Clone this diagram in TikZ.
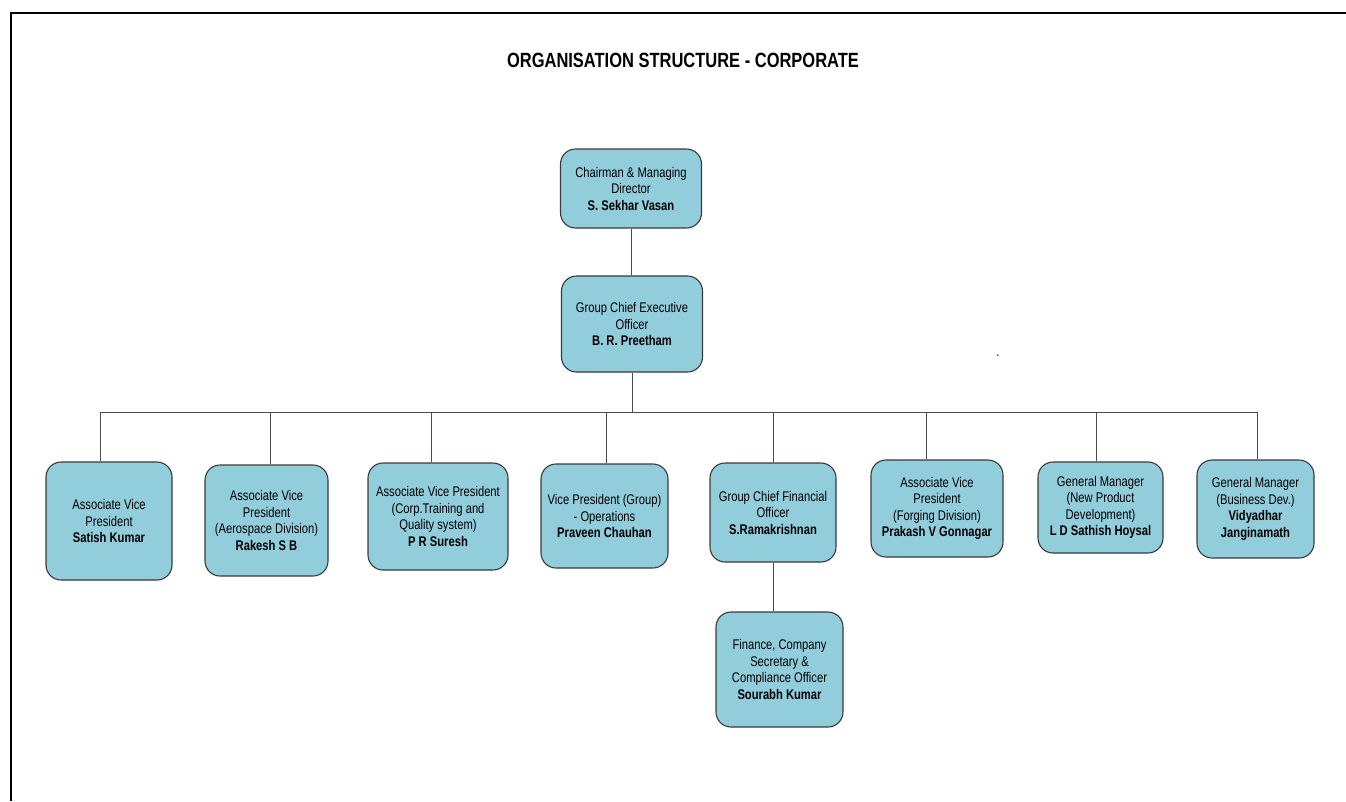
\documentclass[tikz,border=0pt]{standalone}
\usepackage{fontspec}
\setmainfont{Liberation Sans}[FakeStretch=0.8]
\definecolor{boxblue}{HTML}{92CDDC}
\definecolor{edgegray}{HTML}{3A3A3A}
\tikzset{post/.style={draw=edgegray,fill=boxblue,line width=1.1pt,rounded corners=15pt,align=center,inner sep=0pt},
  link/.style={draw=black!70,line width=1pt}}

\begin{document}
\begin{tikzpicture}[x=1pt,y=-1pt,font=\fontsize{14}{16.5}\selectfont]
\useasboundingbox (0,0) rectangle (1346,801);
\draw[line width=2.6pt] (11,801)--(11,13)--(1346,13);
\node[font=\fontsize{20.6}{24}\selectfont\bfseries] (title) at (683,60) {ORGANISATION STRUCTURE - CORPORATE};
% top of the tree
\node[post,minimum width=141pt,minimum height=79pt] (cmd) at (631,188.5) {Chairman \& Managing\\Director\\\textbf{S. Sekhar Vasan}};
\node[post,minimum width=141pt,minimum height=96pt] (gceo) at (632,324) {Group Chief Executive\\Officer\\\textbf{B. R. Preetham}};
\node (dot) at (998,356) {.};
% second level
\node[post,minimum width=126pt,minimum height=118pt] (avp1) at (109,521) {Associate Vice\\President\\\textbf{Satish Kumar}};
\node[post,minimum width=123pt,minimum height=111pt] (avp2) at (266.5,520.5) {Associate Vice\\President\\(Aerospace Division)\\\textbf{Rakesh S B}};
\node[post,minimum width=140pt,minimum height=107pt] (avp3) at (438,516.5) {Associate Vice President\\(Corp.Training and\\Quality system)\\\textbf{P R Suresh}};
\node[post,minimum width=127pt,minimum height=104pt] (vpops) at (604.5,516) {Vice President (Group)\\- Operations\\\textbf{Praveen Chauhan}};
\node[post,minimum width=126pt,minimum height=99pt] (gcfo) at (773,512.5) {Group Chief Financial\\Officer\\\textbf{S.Ramakrishnan}};
\node[post,minimum width=132pt,minimum height=97pt] (avp4) at (937,508.5) {Associate Vice\\President\\(Forging Division)\\\textbf{Prakash V Gonnagar}};
\node[post,minimum width=125pt,minimum height=91pt] (gm1) at (1100.5,507.5) {General Manager\\(New Product\\Development)\\\textbf{L D Sathish Hoysal}};
\node[post,minimum width=117pt,minimum height=98pt] (gm2) at (1255.5,509) {General Manager\\(Business Dev.)\\\textbf{Vidyadhar}\\\textbf{Janginamath}};
\node[post,minimum width=127pt,minimum height=115pt] (fcs) at (779.5,669.5) {Finance, Company\\Secretary \&\\Compliance Officer\\\textbf{Sourabh Kumar}};
% connectors
\coordinate (d1) at (100,412);\coordinate (d2) at (270,412);\coordinate (d3) at (431,412);\coordinate (d4) at (606,412);
\coordinate (d5) at (773,412);\coordinate (d6) at (926,412);\coordinate (d7) at (1096,412);\coordinate (d8) at (1257,412);
\draw[link] (cmd.south)--(cmd.south |- gceo.north);
\draw[link] (gceo.south)--(gceo.south |- d1);
\draw[link] (d1)--(d8);
\draw[link] (d1)--(d1 |- avp1.north);\draw[link] (d2)--(d2 |- avp2.north);
\draw[link] (d3)--(d3 |- avp3.north);\draw[link] (d4)--(d4 |- vpops.north);
\draw[link] (d5)--(d5 |- gcfo.north);\draw[link] (d6)--(d6 |- avp4.north);
\draw[link] (d7)--(d7 |- gm1.north);\draw[link] (d8)--(d8 |- gm2.north);
\draw[link] (gcfo.south)--(gcfo.south |- fcs.north);
\end{tikzpicture}
\end{document}
